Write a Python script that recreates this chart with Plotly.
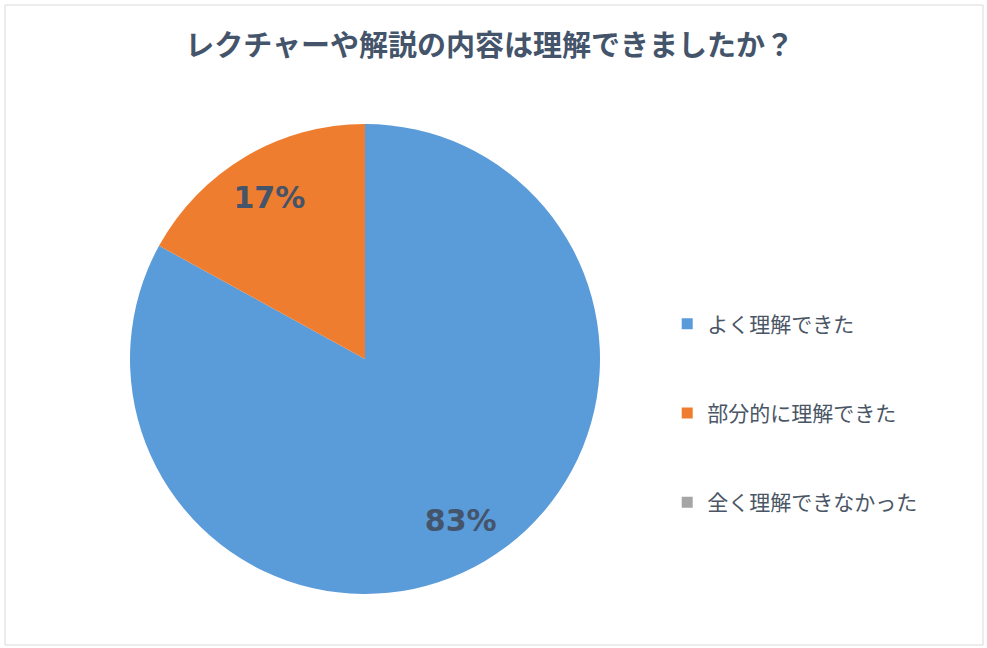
import plotly.graph_objs as go


labels = ['よく理解できた', '部分的に理解できた', '全く理解できなかった']
values = [83, 17, 0]
colors = ['#5A9BD9', '#EF7D2F', '#A5A5A5']
pct_text = ['83%', '17%', '']

TITLE = 'レクチャーや解説の内容は理解できましたか？'
FONT = 'Noto Sans CJK JP'
TEXT_COLOR = '#44546A'

W, H = 987, 648
PIE_DOMAIN = dict(x=[130 / W, 600 / W], y=[1 - 594 / H, 1 - 124 / H])


def plot():
    # the coloured slices
    pie = go.Pie(
        labels=labels,
        values=values,
        textinfo='none',
        marker=dict(colors=colors, line=dict(width=0)),
        sort=False,
        direction='clockwise',
        rotation=0,
        showlegend=False,
        domain=PIE_DOMAIN,
    )

    # transparent ring on top, only to place the % labels out near the rim
    labels_ring = go.Pie(
        labels=labels,
        values=values,
        hole=0.6,
        text=pct_text,
        textinfo='text',
        textposition='inside',
        insidetextorientation='horizontal',
        textfont=dict(family='DejaVu Sans', size=30, color=TEXT_COLOR, weight='bold'),
        marker=dict(colors=['rgba(0,0,0,0)'] * 3, line=dict(width=0)),
        sort=False,
        direction='clockwise',
        rotation=0,
        showlegend=False,
        hoverinfo='skip',
        domain=PIE_DOMAIN,
    )

    # legend entries drawn as empty scatter traces so the gap between items can be set
    legend_traces = []
    for i, lab in enumerate(labels):
        legend_traces.append(
            go.Scatter(
                x=[None],
                y=[None],
                mode='markers',
                name=lab,
                legendgroup=lab,
                marker=dict(symbol='square', size=11, color=colors[i]),
            )
        )

    fig = go.Figure(
        data=[pie, labels_ring] + legend_traces,
        layout=go.Layout(
            width=W,
            height=H,
            margin=dict(l=0, r=0, t=0, b=0),
            paper_bgcolor='white',
            plot_bgcolor='white',
            xaxis=dict(visible=False),
            yaxis=dict(visible=False),
            title=dict(
                text='<b>' + TITLE + '</b>',
                x=0.496,
                xanchor='center',
                y=1 - 46 / H,
                yanchor='middle',
                font=dict(family=FONT, size=29, color=TEXT_COLOR),
            ),
            legend=dict(
                x=0.676,
                xanchor='left',
                y=1 - 413 / H,
                yanchor='middle',
                traceorder='grouped',
                tracegroupgap=59,
                itemclick=False,
                font=dict(family=FONT, size=21, color='#4A5666'),
                bgcolor='rgba(0,0,0,0)',
            ),
            shapes=[
                dict(
                    type='rect',
                    xref='paper',
                    yref='paper',
                    x0=5 / W,
                    x1=983 / W,
                    y0=1 - 645 / H,
                    y1=1 - 5 / H,
                    line=dict(color='#D9D9D9', width=1),
                )
            ],
        ),
    )

    fig.write_html(
        'out.html',
        config=dict(displayModeBar=False),
        post_script="document.body.style.margin='0px';",
    )
    return fig


plot()
